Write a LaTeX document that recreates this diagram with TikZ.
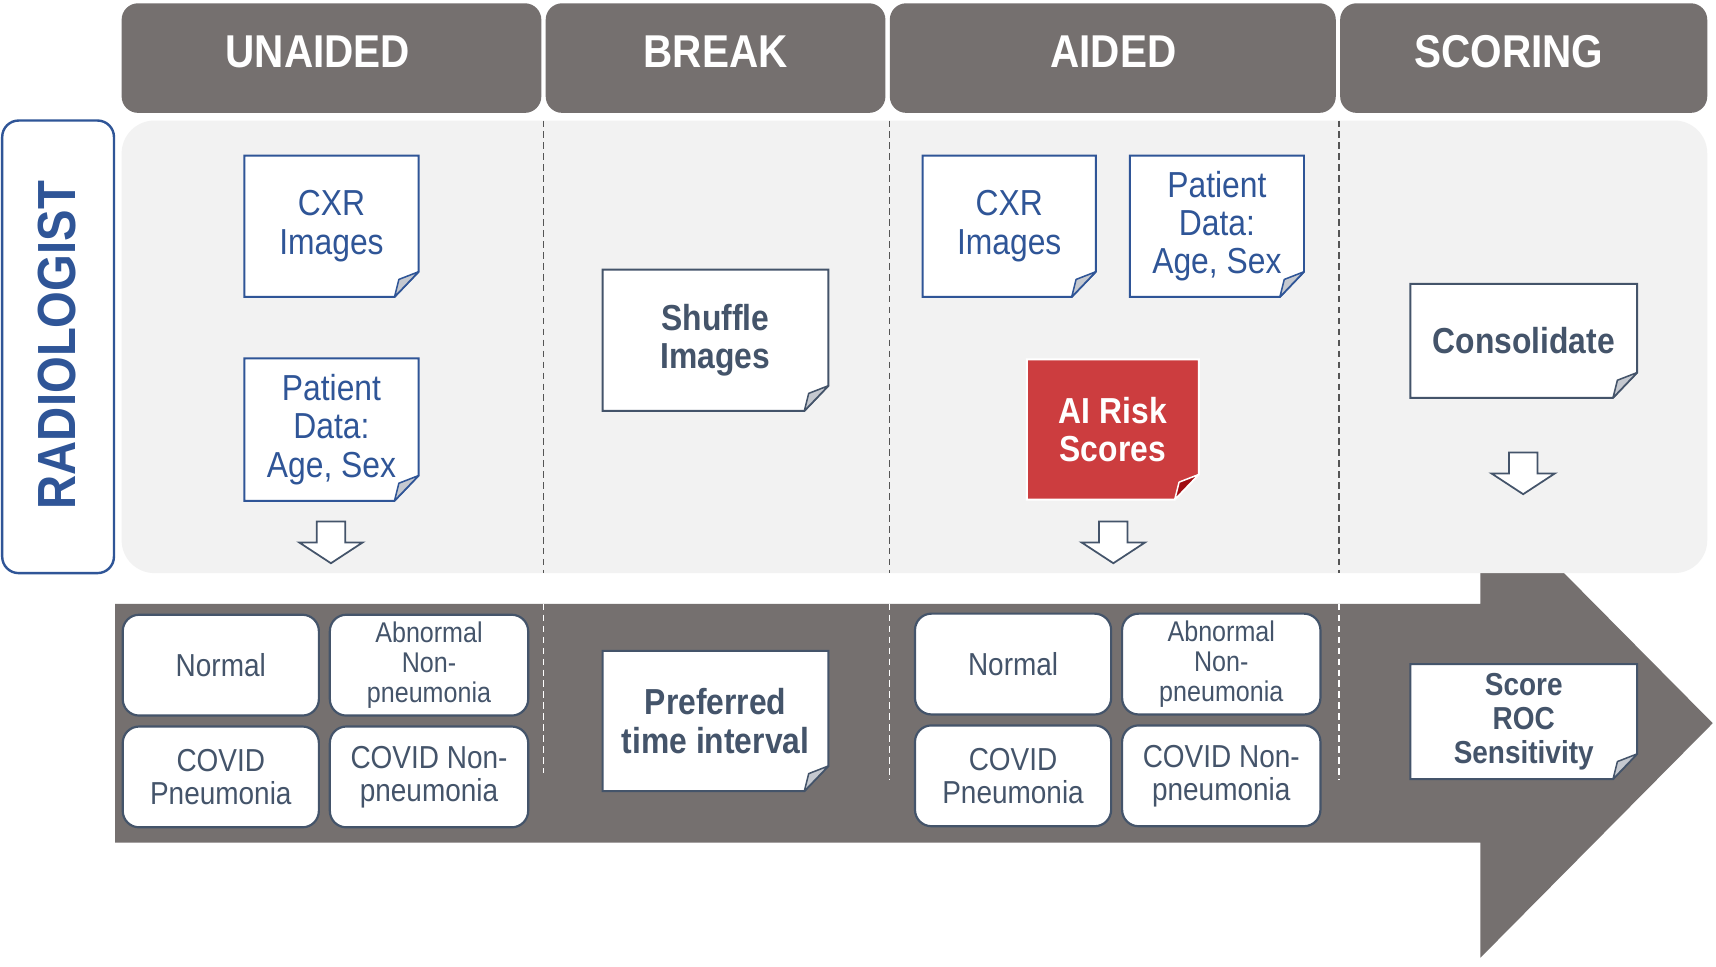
\documentclass[tikz,border=0pt]{standalone}
\usepackage{fontspec}
\setmainfont{Liberation Sans}[FakeStretch=0.88]
\definecolor{hdr}{RGB}{117,112,111}
\definecolor{bluetx}{RGB}{47,85,151}
\definecolor{darktx}{RGB}{68,84,106}
\definecolor{panelgray}{RGB}{242,242,242}
\definecolor{riskred}{RGB}{204,61,63}
\definecolor{foldred}{RGB}{160,13,18}
\definecolor{foldgray}{RGB}{197,201,208}
\definecolor{dashgray}{RGB}{85,85,85}
\newcommand\docshape[7]{%
  \path[draw=#6, fill=#5, line width=0.9pt, line join=miter] (#1,#2) -- (#3,#2) -- (#3,{#4-23}) -- ({#3-22},#4) -- (#1,#4) -- cycle;
  \path[draw=#6, fill=#7, line width=0.7pt, line join=round] (#3,{#4-23}) -- ({#3-18},{#4-16}) -- ({#3-22},#4) -- cycle;
}
\newcommand\downblock[2]{%
  \path[blockarrow] ({#1-13},#2) -- ({#1+13},#2) -- ({#1+13},{#2+19}) -- ({#1+29},{#2+19}) -- (#1,{#2+38}) -- ({#1-29},{#2+19}) -- ({#1-13},{#2+19}) -- cycle;
}
% \boxnode{style}{name}{x1}{y1}{x2}{y2}{text}
\newcommand\boxnode[7]{%
  \node[#1, minimum width={(#5-#3)*0.5pt}, minimum height={(#6-#4)*0.5pt}] (#2) at ({(#3+#5)/2},{(#4+#6)/2}) {#7};
}
\tikzset{
  hdrbox/.style={fill=hdr, rounded corners=7.5pt, inner sep=0pt},
  hdrtext/.style={text=white, inner sep=0pt, font=\bfseries\fontsize{21}{24}\selectfont},
  doctext/.style={inner sep=0pt, align=center, text=bluetx, font=\fontsize{16.5}{17.5}\selectfont},
  docbold/.style={inner sep=0pt, align=center, text=darktx, font=\bfseries\fontsize{16.5}{17.5}\selectfont},
  catbox/.style={draw=darktx, fill=white, rounded corners=7.5pt, line width=1pt, inner sep=0pt, align=center, text=darktx, font=\fontsize{14.5}{15}\selectfont},
  catsmall/.style={catbox, font=\fontsize{13}{13.75}\selectfont},
  scorebold/.style={docbold, font=\bfseries\fontsize{14.5}{15.5}\selectfont},
  riskbold/.style={docbold, text=white},
  blockarrow/.style={draw=darktx, fill=white, line width=0.8pt, line join=miter},
  paneldash/.style={draw=dashgray, line width=0.6pt, dash pattern=on 3pt off 2pt},
  banddash/.style={draw=white, line width=0.6pt, dash pattern=on 3pt off 2pt},
  radbox/.style={draw=bluetx, fill=white, line width=1.1pt, rounded corners=7.5pt, inner sep=0pt},
}
\begin{document}
\begin{tikzpicture}[x=0.5pt,y=-0.5pt]
\useasboundingbox[fill=white] (0,0) rectangle (1566,882);
% big arrow band
\path[fill=hdr] (105,551) -- (1351,551) -- (1351,446) -- (1563,660) -- (1351,874) -- (1351,769) -- (105,769) -- cycle;
% panel
\path[fill=panelgray, rounded corners=15pt] (111,110) rectangle (1558,523);
% headers
\boxnode{hdrbox}{hU}{111}{3}{494}{103}{}
\boxnode{hdrbox}{hB}{498}{3}{808}{103}{}
\boxnode{hdrbox}{hA}{812}{3}{1219}{103}{}
\boxnode{hdrbox}{hS}{1223}{3}{1558}{103}{}
\node[hdrtext] (tU) at (290,47) {UNAIDED};
\node[hdrtext] (tB) at (653,47) {BREAK};
\node[hdrtext] (tA) at (1016,47) {AIDED};
\node[hdrtext] (tS) at (1377,47) {SCORING};
% radiologist
\boxnode{radbox}{rad}{2}{110}{104}{523}{}
\node[rotate=90, text=bluetx, inner sep=0pt, font=\bfseries\fontsize{24.5}{26}\selectfont] (radtext) at (52,315) {RADIOLOGIST};
% dashed separators
\coordinate (d1a) at (496,110); \coordinate (d1b) at (496,523);
\coordinate (d2a) at (812,110); \coordinate (d2b) at (812,523);
\coordinate (d3a) at (1222,110); \coordinate (d3b) at (1222,523);
\draw[paneldash] (d1a) -- (d1b);
\draw[paneldash] (d2a) -- (d2b);
\draw[paneldash] (d3a) -- (d3b);
\coordinate (e1a) at (496,551); \coordinate (e1b) at (496,705);
\coordinate (e2a) at (812,551); \coordinate (e2b) at (812,712);
\coordinate (e3a) at (1222,551); \coordinate (e3b) at (1222,712);
\draw[banddash] (e1a) -- (e1b);
\draw[banddash] (e2a) -- (e2b);
\draw[banddash] (e3a) -- (e3b);
% unaided docs
\docshape{223}{142}{382}{271}{white}{bluetx}{foldgray}
\boxnode{doctext}{cxrU}{223}{142}{382}{271}{CXR\\Images}
\docshape{223}{327}{382}{457}{white}{bluetx}{foldgray}
\boxnode{doctext}{patU}{223}{327}{382}{457}{Patient\\Data:\\Age, Sex}
\downblock{302}{476}
% break
\docshape{550}{246}{756}{375}{white}{darktx}{foldgray}
\boxnode{docbold}{shuf}{550}{246}{756}{375}{Shuffle\\Images}
% aided docs
\docshape{842}{142}{1000}{271}{white}{bluetx}{foldgray}
\boxnode{doctext}{cxrA}{842}{142}{1000}{271}{CXR\\Images}
\docshape{1031}{142}{1190}{271}{white}{bluetx}{foldgray}
\boxnode{doctext}{patA}{1031}{142}{1190}{271}{Patient\\Data:\\Age, Sex}
\docshape{937}{328}{1094}{456}{riskred}{white}{foldred}
\boxnode{riskbold}{risk}{937}{328}{1094}{456}{AI Risk\\Scores}
\downblock{1016}{476}
% scoring
\docshape{1287}{259}{1494}{363}{white}{darktx}{foldgray}
\boxnode{docbold}{cons}{1287}{259}{1494}{363}{Consolidate}
\downblock{1390}{413}
% band: unaided categories
\boxnode{catbox}{nU}{112}{561}{291}{653}{Normal}
\boxnode{catsmall}{aU}{301}{561}{482}{653}{Abnormal\\Non-\\pneumonia}
\boxnode{catbox}{cU}{112}{663}{291}{755}{COVID\\Pneumonia}
\boxnode{catbox}{xU}{301}{663}{482}{755}{COVID Non-\\pneumonia}
% band: break
\docshape{550}{594}{756}{722}{white}{darktx}{foldgray}
\boxnode{docbold}{pref}{550}{594}{756}{722}{Preferred\\time interval}
% band: aided categories
\boxnode{catbox}{nA}{835}{560}{1014}{652}{Normal}
\boxnode{catsmall}{aA}{1024}{560}{1205}{652}{Abnormal\\Non-\\pneumonia}
\boxnode{catbox}{cA}{835}{662}{1014}{754}{COVID\\Pneumonia}
\boxnode{catbox}{xA}{1024}{662}{1205}{754}{COVID Non-\\pneumonia}
% band: scoring
\docshape{1287}{606}{1494}{711}{white}{darktx}{foldgray}
\boxnode{scorebold}{score}{1287}{606}{1494}{711}{Score\\ROC\\Sensitivity}
\end{tikzpicture}
\end{document}
